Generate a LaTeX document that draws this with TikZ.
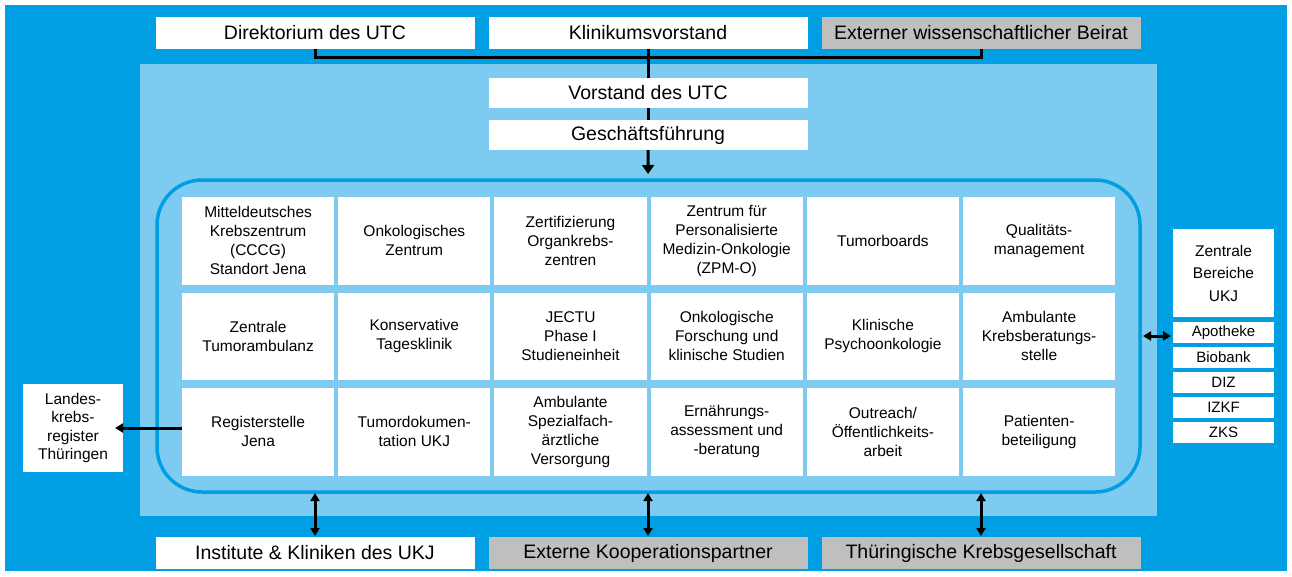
\documentclass[tikz,border=0pt]{standalone}
\usepackage{fontspec}
\setmainfont{Liberation Sans}
\definecolor{utcblue}{RGB}{0,159,227}
\definecolor{utclight}{RGB}{125,203,240}
\definecolor{utcgray}{RGB}{191,191,191}
\tikzstyle{topbox}=[rectangle,fill=white,minimum width=319pt,minimum height=32pt,
inner sep=0pt,outer sep=0pt,font=\fontsize{19.5}{23}\selectfont]
\tikzstyle{gtopbox}=[topbox,fill=utcgray]
\tikzstyle{cellbox}=[rectangle,fill=white,minimum width=152.2pt,minimum height=87.5pt,
inner sep=0pt,outer sep=0pt,align=center,font=\fontsize{15.5}{19}\selectfont]
\tikzstyle{sidebox}=[rectangle,fill=white,minimum width=101pt,minimum height=21pt,
inner sep=0pt,outer sep=0pt,font=\fontsize{15}{18}\selectfont]
\tikzstyle{hubbox}=[rectangle,draw=utcblue,line width=3.5pt,rounded corners=45pt,
minimum width=983pt,minimum height=312pt,inner sep=0pt,outer sep=0pt]
\tikzstyle{link}=[line width=3pt]
\usetikzlibrary{arrows.meta,positioning}
\begin{document}
\begin{tikzpicture}[x=1pt,y=-1pt,>={Triangle[length=8pt,width=9pt]}]
            \useasboundingbox (0,0) rectangle (1292,576);
            \fill[utcblue] (5,5) rectangle (1287,571);
            \fill[utclight] (140,64) rectangle (1157,516);

            % TOP PART

            \node[topbox] (o1) at (315,33) {Direktorium des UTC};
            \node[topbox, right=14pt of o1] (o2) {Klinikumsvorstand};
            \node[gtopbox, right=14pt of o2] (o3) {Externer wissenschaftlicher Beirat};
            \node[topbox, minimum height=30pt, below=29pt of o2] (v1) {Vorstand des UTC};
            \node[topbox, minimum height=30pt, below=12pt of v1] (v2) {Gesch\"aftsf\"uhrung};
            \coordinate (j1) at (648.5,57);

            \draw[link] (o1.south) |- (j1) -| (o3.south);
            \draw[link] (o2) -- (v1);
            \draw[link] (v1) -- (v2);

            % CENTRE PART

            \node[hubbox] (h1) at (648.5,336) {};
            \path[link,-{Triangle[length=9pt,width=12pt]}] (v2) edge[shorten >=6pt] (h1);

            \node[cellbox] (a1) at (258.1,240.75) {Mitteldeutsches\\Krebszentrum\\(CCCG)\\Standort Jena};
            \node[cellbox, right=4pt of a1] (a2) {Onkologisches\\Zentrum};
            \node[cellbox, right=4pt of a2] (a3) {Zertifizierung\\Organkrebs-\\zentren};
            \node[cellbox, right=4pt of a3] (a4) {Zentrum f\"ur\\Personalisierte\\Medizin-Onkologie\\(ZPM-O)};
            \node[cellbox, right=4pt of a4] (a5) {Tumorboards};
            \node[cellbox, right=4pt of a5] (a6) {Qualit\"ats-\\management};

            \node[cellbox, below=8pt of a1] (b1) {Zentrale\\Tumorambulanz};
            \node[cellbox, right=4pt of b1] (b2) {Konservative\\Tagesklinik};
            \node[cellbox, right=4pt of b2] (b3) {JECTU\\Phase I\\Studieneinheit};
            \node[cellbox, right=4pt of b3] (b4) {Onkologische\\Forschung und\\klinische Studien};
            \node[cellbox, right=4pt of b4] (b5) {Klinische\\Psychoonkologie};
            \node[cellbox, right=4pt of b5] (b6) {Ambulante\\Krebsberatungs-\\stelle};

            \node[cellbox, below=8pt of b1] (c1) {Registerstelle\\Jena};
            \node[cellbox, right=4pt of c1] (c2) {Tumordokumen-\\tation UKJ};
            \node[cellbox, right=4pt of c2] (c3) {Ambulante\\Spezialfach-\\\"arztliche\\Versorgung};
            \node[cellbox, right=4pt of c3] (c4) {Ern\"ahrungs-\\assessment und\\-beratung};
            \node[cellbox, right=4pt of c4] (c5) {Outreach/\\\"Offentlichkeits-\\arbeit};
            \node[cellbox, right=4pt of c5] (c6) {Patienten-\\beteiligung};

            % LEFT PART

            \node[cellbox, minimum width=100pt, minimum height=88pt,
                  font=\fontsize{15.5}{18.5}\selectfont] (l1) at (73,428) {Landes-\\krebs-\\register\\Th\"uringen};
            \path[link,->] (c1.west |- l1) edge[shorten >=-8pt] (l1);

            % RIGHT PART

            \node[cellbox, minimum width=101pt, minimum height=88pt,
                  font=\fontsize{15.5}{22.5}\selectfont] (zb) at (1223.5,273) {Zentrale\\Bereiche\\UKJ};
            \node[sidebox, below=5pt of zb] (e1) {Apotheke};
            \node[sidebox, below=4pt of e1] (e2) {Biobank};
            \node[sidebox, below=4pt of e2] (e3) {DIZ};
            \node[sidebox, below=4pt of e3] (e4) {IZKF};
            \node[sidebox, below=4pt of e4] (e5) {ZKS};
            \path[link,<->] (h1.east) edge[shorten <=3pt, shorten >=2pt] (h1.east -| e1.west);

            % BOTTOM PART

            \node[topbox] (u1) at (315,553) {Institute \& Kliniken des UKJ};
            \node[gtopbox, right=14pt of u1] (u2) {Externe Kooperationspartner};
            \node[gtopbox, right=14pt of u2] (u3) {Th\"uringische Krebsgesellschaft};

            \path[link,<->] (u1.north |- h1.south) edge[shorten <=1pt, shorten >=1pt] (u1);
            \path[link,<->] (u2.north |- h1.south) edge[shorten <=1pt, shorten >=1pt] (u2);
            \path[link,<->] (u3.north |- h1.south) edge[shorten <=1pt, shorten >=1pt] (u3);

\end{tikzpicture}
\end{document}
